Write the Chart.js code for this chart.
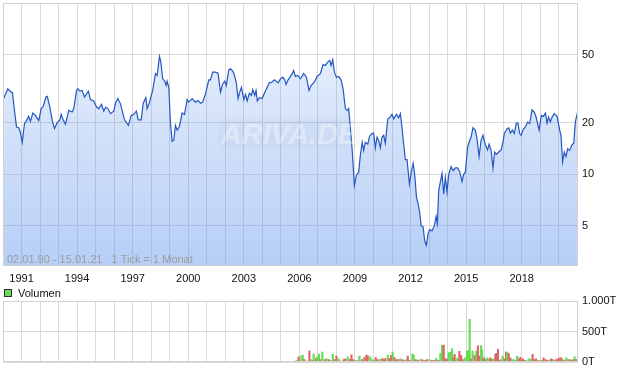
<!DOCTYPE html>
<html>
<head>
<meta charset="utf-8">
<script src="https://cdn.jsdelivr.net/npm/chart.js@4.4.1/dist/chart.umd.min.js"></script>
<style>
  body { margin: 0; background: #fff; }
  #wrap { position: relative; width: 620px; height: 371px; }
  #priceChart { position: absolute; left: 0; top: 0; }
  #volChart { position: absolute; left: 0; top: 285px; }
</style>
</head>
<body>
<div id="wrap">
  <canvas id="priceChart" width="620" height="285"></canvas>
  <canvas id="volChart" width="620" height="86"></canvas>
</div>
<script>
// price (monthly-ish closes), dates as decimal years
const priceDates = [
  1990.01, 1990.26, 1990.44, 1990.51, 1990.62, 1990.73, 1990.85, 1990.94,
  1991.04, 1991.16, 1991.27, 1991.38, 1991.48, 1991.61, 1991.75, 1991.93,
  1992.06, 1992.17, 1992.31, 1992.39, 1992.53, 1992.66, 1992.78, 1992.93,
  1993.07, 1993.14, 1993.25, 1993.37, 1993.55, 1993.73, 1993.82, 1993.97,
  1994.04, 1994.14, 1994.27, 1994.40, 1994.51, 1994.61, 1994.72, 1994.90,
  1995.05, 1995.17, 1995.32, 1995.44, 1995.55, 1995.66, 1995.80, 1995.98,
  1996.09, 1996.20, 1996.34, 1996.56, 1996.77, 1996.92,
  1997.06, 1997.20, 1997.30, 1997.46, 1997.57, 1997.71, 1997.78, 1997.91,
  1998.08, 1998.23, 1998.32, 1998.45, 1998.52, 1998.62, 1998.73, 1998.81, 1998.86, 1998.95,
  1999.04, 1999.13, 1999.22, 1999.31, 1999.40, 1999.53, 1999.67, 1999.80, 1999.94,
  2000.03, 2000.21, 2000.39, 2000.53, 2000.66, 2000.78, 2000.93,
  2001.11, 2001.20, 2001.32, 2001.47, 2001.61, 2001.74, 2001.86, 2001.97,
  2002.05, 2002.19, 2002.28, 2002.37, 2002.46, 2002.59, 2002.69, 2002.78, 2002.87,
  2003.00, 2003.09, 2003.18, 2003.30, 2003.41, 2003.48, 2003.59, 2003.66, 2003.73, 2003.84, 2003.99,
  2004.10, 2004.26, 2004.38, 2004.53, 2004.64, 2004.74, 2004.85, 2004.98,
  2005.10, 2005.21, 2005.28, 2005.39, 2005.52, 2005.61, 2005.69, 2005.78, 2005.91,
  2006.06, 2006.23, 2006.38, 2006.52, 2006.63, 2006.81, 2006.96,
  2007.13, 2007.28, 2007.40, 2007.53, 2007.64, 2007.71, 2007.80, 2007.89,
  2008.00, 2008.12, 2008.25, 2008.36, 2008.48, 2008.58, 2008.66, 2008.75, 2008.85, 2008.97,
  2009.08, 2009.20, 2009.29, 2009.39, 2009.47, 2009.56, 2009.69, 2009.79, 2009.92,
  2010.01, 2010.10, 2010.19, 2010.28, 2010.37, 2010.46, 2010.55, 2010.64, 2010.77, 2010.87,
  2011.00, 2011.09, 2011.24, 2011.36, 2011.45, 2011.54, 2011.63, 2011.72, 2011.81, 2011.94,
  2012.05, 2012.14, 2012.22, 2012.32, 2012.41, 2012.49, 2012.57, 2012.68, 2012.76, 2012.85, 2012.95,
  2013.03, 2013.16, 2013.29, 2013.38, 2013.45, 2013.52, 2013.70, 2013.79, 2013.88, 2013.97,
  2014.06, 2014.19, 2014.30, 2014.42, 2014.54, 2014.65, 2014.78, 2014.87, 2014.96,
  2015.08, 2015.19, 2015.27, 2015.37, 2015.50, 2015.59, 2015.70, 2015.81, 2015.91,
  2016.04, 2016.16, 2016.24, 2016.35, 2016.45, 2016.54, 2016.63, 2016.76, 2016.89, 2016.99,
  2017.06, 2017.21, 2017.30, 2017.39, 2017.50, 2017.60, 2017.71, 2017.80, 2017.89, 2017.97,
  2018.07, 2018.20, 2018.32, 2018.43, 2018.56, 2018.68, 2018.79, 2018.94,
  2019.06, 2019.18, 2019.28, 2019.37, 2019.45, 2019.55, 2019.64, 2019.76, 2019.91,
  2020.05, 2020.12, 2020.21, 2020.30, 2020.39, 2020.48, 2020.59, 2020.72, 2020.81, 2020.90,
  2021.00, 2021.04
];
const priceValues = [
  27.3, 31.6, 30.2, 30.0, 23.6, 18.9, 18.7, 17.6,
  15.4, 19.8, 20.6, 21.8, 20.4, 22.8, 22.1, 20.6,
  24.2, 24.9, 28.2, 28.5, 24.7, 20.6, 18.5, 20.1,
  20.8, 22.4, 20.8, 19.6, 23.6, 23.1, 24.2, 30.9,
  31.6, 30.6, 30.9, 28.2, 29.5, 30.6, 27.3, 26.8,
  24.7, 24.2, 25.6, 23.4, 24.7, 24.2, 22.6, 23.4,
  26.4, 27.7, 25.8, 20.8, 19.3, 22.1,
  22.4, 23.4, 20.8, 20.8, 26.0, 28.0, 24.2, 26.4,
  30.9, 38.7, 37.8, 48.8, 45.2, 36.1, 35.0, 33.0, 35.0, 32.2,
  19.8, 15.6, 15.9, 19.3, 18.1, 19.1, 22.8, 22.4, 27.3,
  26.4, 27.7, 26.4, 27.0, 26.0, 26.4, 29.5,
  35.6, 35.6, 39.5, 39.5, 38.9, 30.2, 33.8, 35.0,
  33.0, 40.7, 41.3, 40.4, 38.9, 34.6, 27.7, 30.2, 32.2,
  27.3, 29.3, 26.8, 29.8, 28.9, 31.2, 28.9, 30.9, 26.8, 28.0, 27.7,
  29.5, 32.2, 34.2, 34.6, 35.6, 35.0, 34.2, 36.1,
  36.9, 35.6, 33.5, 35.6, 37.3, 38.7, 40.4, 37.3, 37.8,
  36.1, 38.7, 36.9, 30.9, 33.0, 34.6, 37.3,
  38.7, 43.7, 43.2, 45.2, 46.2, 43.2, 46.6, 39.5,
  36.9, 37.3, 35.6, 31.6, 24.2, 23.6, 24.2, 18.9, 13.8, 8.6,
  9.9, 10.3, 12.9, 15.4, 13.8, 15.4, 15.0, 16.7, 17.3,
  17.4, 14.3, 16.5, 15.8, 14.3, 16.5, 16.9, 15.2, 21.1, 21.4,
  22.4, 21.1, 22.4, 21.4, 22.6, 18.7, 15.0, 12.2, 12.2, 8.8,
  10.5, 11.6, 10.1, 7.37, 6.74, 6.03, 5.04, 4.93, 4.12, 3.86, 4.51,
  4.76, 4.68, 5.04, 5.69, 5.16, 8.07, 10.1, 7.7, 9.6, 7.9,
  10.0, 11.1, 10.5, 10.9, 10.9, 10.4, 9.1, 10.0, 10.3,
  14.4, 15.8, 16.5, 18.7, 18.1, 16.1, 12.7, 15.8, 16.9,
  14.9, 13.9, 15.0, 13.8, 10.9, 13.5, 13.1, 13.5, 13.9, 15.4,
  17.3, 18.5, 18.7, 17.4, 18.1, 17.3, 19.9, 19.9, 17.3, 16.9,
  18.2, 18.9, 20.2, 19.8, 23.8, 23.1, 21.4, 18.1,
  22.1, 21.8, 22.8, 19.9, 21.6, 20.2, 21.6, 22.6, 21.8,
  18.1, 17.0, 11.8, 13.5, 12.7, 14.1, 13.8, 14.9, 15.2, 20.4,
  22.6, 22.4
];

// volume in thousands (T), 1 = up bar (green), 0 = down bar (red)
const volDates = [
  2005.84, 2005.96, 2006.11, 2006.18, 2006.27, 2006.38, 2006.54, 2006.63, 2006.74, 2006.77, 2006.90, 2006.96,
  2007.06, 2007.13, 2007.24, 2007.37, 2007.46, 2007.58, 2007.67, 2007.80, 2007.89,
  2008.00, 2008.12, 2008.21, 2008.39, 2008.48, 2008.61, 2008.72, 2008.81, 2008.90,
  2009.04, 2009.15, 2009.24, 2009.38, 2009.51, 2009.62, 2009.69, 2009.83, 2009.92,
  2010.01, 2010.12, 2010.23, 2010.37, 2010.48, 2010.55, 2010.64, 2010.77, 2010.86, 2010.95,
  2011.04, 2011.13, 2011.24, 2011.34, 2011.45, 2011.56, 2011.67, 2011.78, 2011.85, 2011.95,
  2012.10, 2012.17, 2012.28, 2012.39, 2012.49, 2012.62, 2012.75, 2012.89,
  2013.03, 2013.16, 2013.29, 2013.38, 2013.49, 2013.61, 2013.70, 2013.79, 2013.88, 2013.97,
  2014.06, 2014.15, 2014.24, 2014.33, 2014.38, 2014.47, 2014.54, 2014.64, 2014.73, 2014.81, 2014.91, 2014.96,
  2015.05, 2015.14, 2015.19, 2015.27, 2015.35, 2015.46, 2015.55, 2015.64, 2015.73, 2015.81, 2015.86, 2015.95,
  2016.04, 2016.13, 2016.22, 2016.31, 2016.40, 2016.49, 2016.58, 2016.63, 2016.72, 2016.81, 2016.89, 2016.97,
  2017.06, 2017.16, 2017.21, 2017.30, 2017.39, 2017.48, 2017.57, 2017.66, 2017.75, 2017.84, 2017.93,
  2018.02, 2018.07, 2018.16, 2018.25, 2018.38, 2018.47, 2018.59, 2018.68, 2018.77, 2018.86, 2018.97,
  2019.10, 2019.18, 2019.28, 2019.37, 2019.49, 2019.58, 2019.67, 2019.76, 2019.87, 2019.94,
  2020.05, 2020.14, 2020.23, 2020.32, 2020.41, 2020.50, 2020.59, 2020.68, 2020.77, 2020.86, 2020.95, 2021.03
];
const volValues = [
  28, 85, 102, 113, 40, 17, 181, 40, 28, 130, 57, 85,
  130, 40, 164, 40, 57, 40, 28, 130, 40,
  96, 51, 17, 40, 51, 85, 40, 119, 40,
  28, 28, 96, 40, 73, 113, 102, 85, 40,
  28, 73, 40, 45, 57, 40, 57, 113, 57, 107,
  164, 73, 40, 40, 51, 40, 28, 40, 96, 28,
  130, 119, 40, 28, 40, 40, 28, 40,
  40, 28, 28, 57, 28, 141, 277, 277, 51, 51,
  153, 164, 220, 68, 124, 40, 68, 175, 107, 40, 51, 68,
  181, 192, 700, 51, 181, 107, 181, 266, 96, 266, 198, 68,
  40, 68, 51, 68, 40, 51, 124, 141, 209, 28, 40, 96,
  51, 164, 153, 141, 68, 40, 40, 28, 96, 51, 79,
  28, 51, 28, 23, 51, 51, 124, 40, 51, 28, 23,
  28, 68, 40, 28, 28, 51, 40, 28, 40, 51,
  68, 68, 40, 28, 68, 40, 40, 28, 40, 85, 40, 68
];
const volUp = [
  1, 0, 1, 1, 0, 1, 0, 1, 0, 1, 0, 1,
  1, 0, 1, 0, 1, 0, 1, 1, 0,
  0, 1, 0, 0, 0, 1, 0, 0, 0,
  1, 1, 1, 0, 0, 0, 0, 1, 1,
  1, 0, 0, 1, 0, 0, 0, 1, 0, 0,
  1, 0, 0, 0, 1, 0, 0, 1, 0, 0,
  1, 1, 0, 0, 1, 0, 0, 0,
  1, 0, 0, 1, 0, 1, 1, 0, 0, 0,
  1, 1, 1, 0, 0, 1, 1, 0, 0, 0, 1, 1,
  1, 1, 1, 0, 1, 0, 1, 0, 0, 1, 1, 0,
  0, 1, 1, 0, 0, 1, 0, 0, 0, 0, 1, 1,
  0, 0, 1, 0, 0, 1, 1, 1, 1, 0, 0,
  0, 0, 0, 1, 1, 1, 0, 0, 0, 1, 0,
  1, 0, 0, 0, 1, 0, 0, 1, 0, 0,
  0, 0, 1, 0, 1, 1, 0, 0, 0, 1, 0, 1
];

const priceTicks = [5, 10, 20, 50];
const volTicks = [0, 500, 1000];
const firstYear = 1990;
const lastYear = 2021;
const labelYears = [1991, 1994, 1997, 2000, 2003, 2006, 2009, 2012, 2015, 2018];
const dateRange = '02.01.90 - 15.01.21';
const tickNote = '1 Tick = 1 Monat';

Chart.defaults.font.family = 'Arial, "Liberation Sans", sans-serif';
Chart.defaults.font.size = 11;
Chart.defaults.color = '#111';

const gridColor = '#dadada';
const xMin = 1990.0, xMax = 2021.04;

function yearTicks(axis) {
  const t = [];
  for (let y = firstYear; y <= lastYear; y++) {
    if (y >= axis.min && y <= axis.max) t.push({ value: y });
  }
  axis.ticks = t;
}

// no extra room for half labels at the ends of an axis
function noEdgePadding(axis) {
  axis.paddingTop = 0;
  axis.paddingBottom = 0;
  axis.paddingLeft = 0;
  axis.paddingRight = 0;
}

// thin border round the plot area
const frame = {
  id: 'frame',
  afterDatasetsDraw(chart) {
    const { ctx, chartArea: a } = chart;
    ctx.save();
    ctx.strokeStyle = '#d2d2d2';
    ctx.lineWidth = 1;
    ctx.strokeRect(a.left + 0.5, a.top + 0.5, a.right - a.left - 1, a.bottom - a.top - 1);
    ctx.restore();
  }
};

const priceNotes = {
  id: 'priceNotes',
  afterDatasetsDraw(chart) {
    const { ctx, chartArea: a } = chart;
    ctx.save();
    // watermark
    const cx = 289;
    const cy = 135;
    ctx.fillStyle = 'rgba(140,155,185,0.07)';
    ctx.beginPath();
    if (ctx.roundRect) ctx.roundRect(cx - 71, cy - 16, 142, 31, 8);
    else ctx.rect(cx - 71, cy - 16, 142, 31);
    ctx.fill();
    ctx.font = 'italic bold 29px Arial, "Liberation Sans", sans-serif';
    ctx.fillStyle = 'rgba(255,255,255,0.32)';
    ctx.textAlign = 'center';
    ctx.textBaseline = 'middle';
    ctx.fillText('ARIVA.DE', cx, cy + 1);
    // date range note
    ctx.font = '11px Arial, "Liberation Sans", sans-serif';
    ctx.fillStyle = '#9c9c9c';
    ctx.textAlign = 'left';
    ctx.fillText(dateRange + '   ' + tickNote, a.left + 4, a.bottom - 6);
    ctx.restore();
  }
};

new Chart(document.getElementById('priceChart'), {
  type: 'line',
  data: {
    datasets: [{
      data: priceDates.map((d, i) => ({ x: d, y: priceValues[i] })),
      borderColor: '#2458c0',
      borderWidth: 1.2,
      pointRadius: 0,
      tension: 0,
      fill: 'start',
      backgroundColor: function (context) {
        const area = context.chart.chartArea;
        if (!area) return 'rgba(90,145,235,0.25)';
        const g = context.chart.ctx.createLinearGradient(0, area.top, 0, area.bottom);
        g.addColorStop(0, 'rgba(90,145,235,0.10)');
        g.addColorStop(1, 'rgba(90,145,235,0.44)');
        return g;
      }
    }]
  },
  options: {
    responsive: false,
    animation: false,
    layout: { padding: { top: 3, left: 3, right: 0, bottom: 0 } },
    plugins: { legend: { display: false }, tooltip: { enabled: false } },
    scales: {
      x: {
        type: 'linear',
        min: xMin,
        max: xMax,
        afterBuildTicks: yearTicks,
        afterFit: function (axis) { axis.height = 19; noEdgePadding(axis); },
        grid: { color: gridColor, drawTicks: false },
        border: { display: false },
        ticks: {
          autoSkip: false,
          maxRotation: 0,
          padding: 6,
          callback: v => (labelYears.includes(v) ? String(v) : '')
        }
      },
      y: {
        type: 'logarithmic',
        position: 'right',
        min: 2.92,
        max: 100,
        afterBuildTicks: axis => { axis.ticks = priceTicks.map(v => ({ value: v })); },
        afterFit: function (axis) { axis.width = 42; noEdgePadding(axis); },
        grid: { color: gridColor, drawTicks: false },
        border: { display: false },
        ticks: { padding: 4, callback: v => String(v) }
      }
    }
  },
  plugins: [frame, priceNotes]
});

const volLegend = {
  id: 'volLegend',
  afterDraw(chart) {
    const { ctx } = chart;
    ctx.save();
    ctx.fillStyle = '#66dd55';
    ctx.fillRect(4.5, 4.5, 7, 7);
    ctx.strokeStyle = '#333';
    ctx.lineWidth = 1;
    ctx.strokeRect(4.5, 4.5, 7, 7);
    ctx.font = '11px Arial, "Liberation Sans", sans-serif';
    ctx.fillStyle = '#111';
    ctx.textBaseline = 'middle';
    ctx.fillText('Volumen', 18, 8.5);
    ctx.restore();
  }
};

new Chart(document.getElementById('volChart'), {
  type: 'bar',
  data: {
    datasets: [{
      data: volDates.map((d, i) => ({ x: d, y: volValues[i] })),
      backgroundColor: ctx => (volUp[ctx.dataIndex] ? '#66dd55' : '#dd6666'),
      barThickness: 1.5,
      borderWidth: 0
    }]
  },
  options: {
    responsive: false,
    animation: false,
    layout: { padding: { top: 16, left: 3, right: 0, bottom: 9 } },
    plugins: { legend: { display: false }, tooltip: { enabled: false } },
    scales: {
      x: {
        type: 'linear',
        min: xMin,
        max: xMax,
        offset: false,
        afterBuildTicks: yearTicks,
        afterFit: function (axis) { axis.height = 0; noEdgePadding(axis); },
        grid: { color: gridColor, drawTicks: false, offset: false },
        border: { display: false },
        ticks: { display: false }
      },
      y: {
        position: 'right',
        min: 0,
        max: 1000,
        afterBuildTicks: axis => { axis.ticks = volTicks.map(v => ({ value: v })); },
        afterFit: function (axis) { axis.width = 42; noEdgePadding(axis); },
        grid: { color: gridColor, drawTicks: false },
        border: { display: false },
        ticks: {
          padding: 4,
          callback: v => (v === 1000 ? '1.000T' : v + 'T')
        }
      }
    }
  },
  plugins: [frame, volLegend]
});
</script>
</body>
</html>
